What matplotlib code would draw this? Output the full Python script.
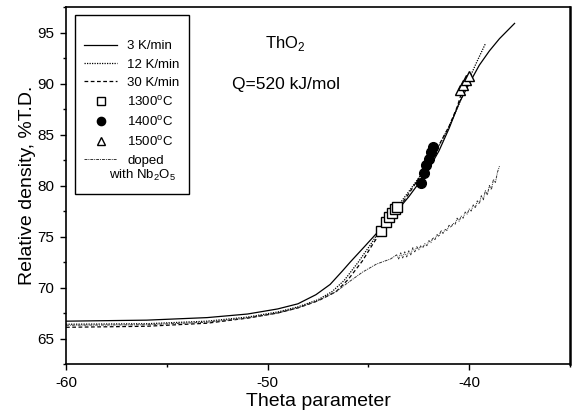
import matplotlib
matplotlib.use("Agg")
import matplotlib.pyplot as plt
from matplotlib.ticker import MultipleLocator

plt.rcParams['font.family'] = ['Liberation Sans', 'DejaVu Sans']
plt.rcParams['mathtext.fontset'] = 'custom'
plt.rcParams['mathtext.rm'] = 'Liberation Sans'
plt.rcParams['axes.unicode_minus'] = False

# 3 K/min heating rate
theta_3 = [-60, -56, -53, -51, -49.5, -48.5, -47.6, -46.9, -46.3, -45.9, -45.2,
           -44.6, -43.8, -43.0, -42.1, -41.5, -41.0, -40.5, -40.0, -39.5, -39.0,
           -38.5, -38.0, -37.75]
rho_3 = [66.7, 66.8, 67.05, 67.4, 67.9, 68.4, 69.3, 70.3, 71.6, 72.5, 74.0,
         75.3, 77.0, 78.9, 81.3, 83.4, 85.6, 88.1, 90.0, 91.8, 93.2,
         94.4, 95.4, 95.9]

# 12 K/min heating rate
theta_12 = [-60, -56, -53, -51, -49.5, -48.5, -47.5, -46.8, -46.2, -45.5, -44.9,
            -44.5, -43.8, -43.0, -42.3, -41.6, -41.0, -40.5, -40.1, -39.7, -39.2]
rho_12 = [66.4, 66.45, 66.7, 67.1, 67.6, 68.1, 68.8, 69.6, 70.7, 72.5, 74.2,
          75.4, 77.3, 79.4, 81.3, 83.5, 85.8, 88.0, 90.0, 91.8, 93.9]

# 30 K/min heating rate
theta_30 = [-60, -56, -53, -51, -49.5, -48.5, -47.5, -46.6, -46.0, -45.3, -44.8,
            -44.4, -43.7, -43.0, -42.3, -41.6, -41.0, -40.6, -40.3]
rho_30 = [66.1, 66.2, 66.5, 67.0, 67.5, 68.0, 68.7, 69.6, 70.8, 72.6, 74.2,
          75.4, 77.2, 79.2, 81.3, 83.6, 85.8, 87.7, 89.6]

# Nb2O5 doped sample (noisy trace)
theta_doped = [-60, -56, -53, -51, -49.5, -48.5, -47.5, -46.6, -46.0, -45.3,
               -44.6, -43.9, -43.6, -43.5, -43.4, -43.3, -43.2, -43.1, -43.0,
               -42.9, -42.8, -42.7, -42.6, -42.5, -42.4, -42.3, -42.2, -42.1,
               -42.0, -41.9, -41.8, -41.7, -41.6, -41.5, -41.4, -41.3, -41.2,
               -41.1, -41.0, -40.9, -40.8, -40.7, -40.6, -40.5, -40.4, -40.3,
               -40.2, -40.1, -40.0, -39.9, -39.8, -39.7, -39.6, -39.5, -39.4,
               -39.3, -39.2, -39.1, -39.0, -38.9, -38.8, -38.7, -38.6, -38.5]
rho_doped = [66.3, 66.35, 66.6, 67.0, 67.5, 68.0, 68.7, 69.6, 70.5, 71.5,
             72.3, 72.8, 73.2, 72.8, 73.4, 72.9, 73.5, 73.0, 73.6,
             73.2, 73.9, 73.5, 74.0, 73.7, 74.1, 73.9, 74.3, 74.1,
             74.6, 74.4, 74.9, 74.7, 75.2, 75.0, 75.6, 75.3, 75.7,
             75.6, 76.1, 75.9, 76.3, 76.2, 76.8, 76.5, 77.0, 76.8,
             77.4, 77.2, 77.7, 77.5, 78.1, 77.8, 78.5, 78.2, 79.0,
             78.6, 79.5, 79.1, 80.0, 79.6, 80.6, 80.3, 81.3, 81.9]

# isothermal points
theta_1300 = [-44.4, -44.15, -44.0, -43.85, -43.7, -43.6]
rho_1300 = [75.5, 76.4, 76.9, 77.3, 77.7, 77.9]
theta_1400 = [-42.39, -42.23, -42.14, -42.01, -41.9, -41.78]
rho_1400 = [80.2, 81.2, 82.0, 82.6, 83.3, 83.8]
theta_1500 = [-40.45, -40.3, -40.15, -40.0]
rho_1500 = [89.4, 89.9, 90.3, 90.7]


def main():
    fig = plt.figure(figsize=(5.73, 4.16), dpi=100)
    ax = fig.add_axes([0.1152, 0.125, 0.8796, 0.858])

    ax.plot(theta_3, rho_3, color='black', lw=0.9, label='3 K/min')
    ax.plot(theta_12, rho_12, color='black', lw=0.9, ls=(0, (1, 1)), label='12 K/min')
    ax.plot(theta_30, rho_30, color='black', lw=0.9, ls=(0, (3, 2)), label='30 K/min')
    ax.plot(theta_1300, rho_1300, ls='none', marker='s', ms=6.5, mfc='white',
            mec='black', mew=1, label='1300$^\\mathrm{o}$C')
    ax.plot(theta_1400, rho_1400, ls='none', marker='o', ms=7, mfc='black',
            mec='black', label='1400$^\\mathrm{o}$C')
    ax.plot(theta_1500, rho_1500, ls='none', marker='^', ms=7, mfc='white',
            mec='black', mew=1, label='1500$^\\mathrm{o}$C')
    ax.plot(theta_doped, rho_doped, color='#333333', lw=0.7, ls=(0, (3, 1, 1, 1)),
            label='doped')
    # blank row in the legend, the second line of the doped label goes there
    ax.plot([], [], ls='none', label=' ')

    ax.set_xlim(-60, -35)
    ax.set_ylim(62.5, 97.5)
    ax.xaxis.set_major_locator(MultipleLocator(10))
    ax.xaxis.set_minor_locator(MultipleLocator(5))
    ax.yaxis.set_major_locator(MultipleLocator(5))
    ax.yaxis.set_minor_locator(MultipleLocator(2.5))
    ax.tick_params(which='major', direction='out', length=4.5, width=1,
                   labelsize=11, pad=4)
    ax.tick_params(which='minor', direction='out', length=2.5, width=1)
    for s in ax.spines.values():
        s.set_linewidth(1.2)
    ax.spines['right'].set_linewidth(1.8)

    ax.set_xlabel('Theta parameter', fontsize=14, labelpad=2)
    ax.set_ylabel('Relative density, %T.D.', fontsize=14, labelpad=1)

    ax.text(0.435, 0.899, 'ThO$_2$', transform=ax.transAxes, fontsize=12,
            ha='center', va='center')
    ax.text(0.436, 0.782, 'Q=520 kJ/mol', transform=ax.transAxes, fontsize=12.5,
            ha='center', va='center')

    # empty title just adds the blank band at the top of the box
    leg = ax.legend(loc='upper left', bbox_to_anchor=(0.018, 0.978),
                    borderaxespad=0, fontsize=9.5, handlelength=2.5,
                    handletextpad=0.75, labelspacing=0.45, borderpad=0.7,
                    markerscale=0.85, title=' ', title_fontsize=7,
                    fancybox=False, framealpha=1, edgecolor='black')
    leg.get_frame().set_linewidth(1)

    # second line of the doped label, centred under "doped"
    ax.text(0.151, 0.529, 'with Nb$_2$O$_5$', transform=ax.transAxes,
            fontsize=9.5, ha='center', va='center', zorder=10)

    fig.savefig('out.png', dpi=100)


if __name__ == "__main__":
    main()
